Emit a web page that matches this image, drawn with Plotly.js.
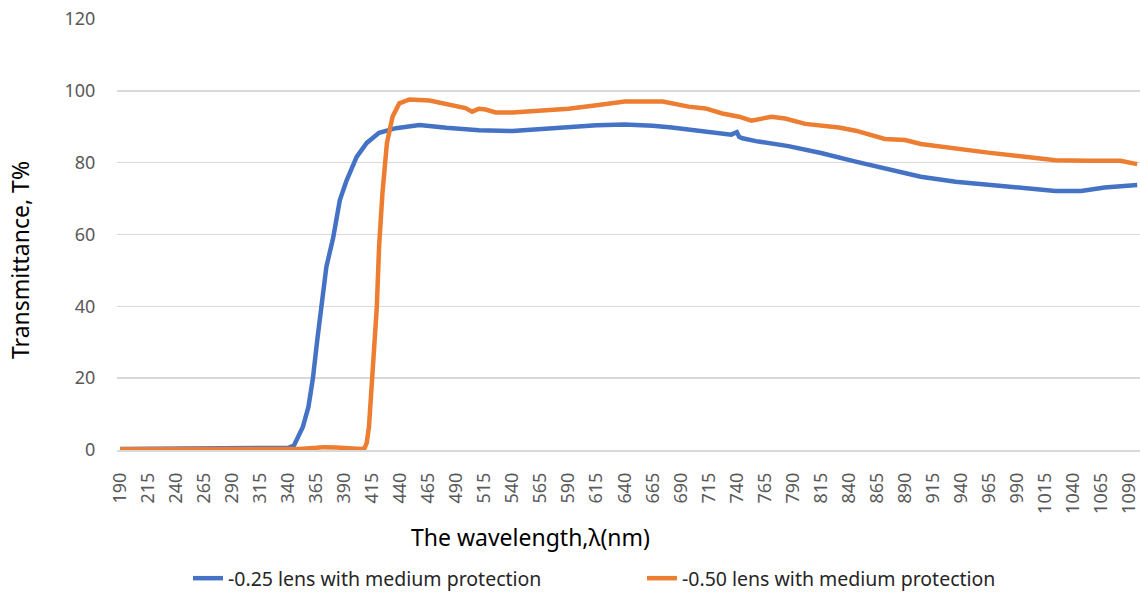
<!DOCTYPE html>
<html>
<head>
<meta charset="utf-8">
<script src="https://cdn.plot.ly/plotly-3.0.1.min.js"></script>
<style>html,body{margin:0;padding:0;background:#fff;}#chart{width:1140px;height:598px;}</style>
</head>
<body>
<div id="chart"></div>
<script>
// Wavelength (nm) sample points and transmittance (%)
const wlBlue = [190, 230, 265, 300, 330, 340, 345, 353, 358, 362, 366, 369, 374, 380, 386, 392, 401, 410, 421, 436, 457, 481, 510, 540, 565, 590, 615, 640, 653, 665, 682, 712, 735, 740, 742, 745, 757, 786, 815, 846, 875, 904, 935, 964, 993, 1024, 1047, 1068, 1097];
const tBlue  = [0.3, 0.3, 0.6, 0.4, 0.4, 0.6, 1.2, 6.4, 12, 20, 31, 39, 51, 59, 69.6, 75, 81.6, 85.5, 88.3, 89.6, 90.5, 89.7, 89, 88.8, 89.4, 89.8, 90.4, 90.6, 90.5, 90.3, 89.8, 88.6, 87.8, 88.5, 87.2, 86.8, 86.0, 84.6, 82.7, 80.3, 78.2, 76.1, 74.7, 73.8, 72.8, 72.1, 72.1, 73.1, 73.8];

const wlOrange = [190, 250, 300, 350, 365, 372, 383, 395, 405, 408, 410, 412, 415, 419, 421, 424, 428, 433, 439, 448, 466, 486, 498, 504, 510, 516, 525, 540, 565, 590, 615, 640, 653, 674, 697, 712, 727, 742, 753, 765, 771, 783, 801, 831, 846, 872, 890, 904, 935, 964, 993, 1024, 1053, 1082, 1097];
const tOrange  = [0.2, 0.2, 0.3, 0.3, 0.6, 0.8, 0.7, 0.4, 0.3, 0.5, 2, 6.5, 20, 40, 56.6, 71.5, 85.5, 92.8, 96.5, 97.6, 97.3, 96, 95.2, 94.2, 95, 94.8, 94, 94, 94.5, 95, 96, 97, 97, 97, 95.6, 95.1, 93.7, 92.8, 91.7, 92.5, 92.8, 92.3, 90.8, 89.8, 88.9, 86.6, 86.3, 85.2, 83.8, 82.8, 81.8, 80.7, 80.5, 80.5, 79.6];

const xTicks = [];
for (let v = 190; v <= 1090; v += 25) xTicks.push(v);
const yTicks = [0, 20, 40, 60, 80, 100, 120];

const seriesNames = ['-0.25 lens with medium protection', '-0.50 lens with medium protection'];
const FONT = 'Noto Sans, Open Sans, sans-serif';

const traces = [
  {x: wlBlue, y: tBlue, type: 'scatter', mode: 'lines', name: seriesNames[0],
   line: {color: '#4472C4', width: 4.5}},
  {x: wlOrange, y: tOrange, type: 'scatter', mode: 'lines', name: seriesNames[1],
   line: {color: '#ED7D31', width: 4.5}}
];

const layout = {
  width: 1140, height: 598,
  margin: {l: 117, r: 0, t: 19, b: 148},
  paper_bgcolor: '#ffffff', plot_bgcolor: '#ffffff',
  font: {family: FONT, color: '#595959', size: 17},
  showlegend: true,
  legend: {orientation: 'h', x: 188 / 1140, xref: 'container', xanchor: 'left',
           y: 0, yref: 'container', yanchor: 'bottom',
           font: {family: FONT, size: 19.5, color: '#262626'},
           entrywidth: 409, entrywidthmode: 'pixels', bgcolor: 'rgba(0,0,0,0)'},
  xaxis: {
    range: [187.3, 1099.5], tickmode: 'array', tickvals: xTicks, ticktext: xTicks.map(String),
    tickangle: -90, showgrid: false, zeroline: false, ticklabeloverflow: 'allow',
    showline: true, linecolor: '#d9d9d9', linewidth: 1.5,
    ticks: 'outside', ticklen: 14, tickcolor: 'rgba(0,0,0,0)',
    tickfont: {family: FONT, size: 18, color: '#595959'}
  },
  yaxis: {
    range: [0, 120], tickmode: 'array', tickvals: yTicks, showgrid: true,
    gridcolor: '#d9d9d9', gridwidth: 1.5, zeroline: false, showline: false,
    ticks: 'outside', ticklen: 17, tickcolor: 'rgba(0,0,0,0)',
    tickfont: {family: FONT, size: 18, color: '#595959'}
  },
  annotations: [
    {text: 'The wavelength,λ(nm)', xref: 'paper', yref: 'paper', x: 0.404, y: -0.202,
     xanchor: 'center', yanchor: 'middle', showarrow: false,
     font: {family: FONT, size: 23, color: '#000000'}},
    {text: 'Transmittance, T%', xref: 'paper', yref: 'paper', x: -0.0948, y: 0.4408,
     xanchor: 'center', yanchor: 'middle', textangle: -90, showarrow: false,
     font: {family: FONT, size: 23, color: '#000000'}}
  ]
};

Plotly.newPlot('chart', traces, layout, {displayModeBar: false, staticPlot: true});
</script>
</body>
</html>
